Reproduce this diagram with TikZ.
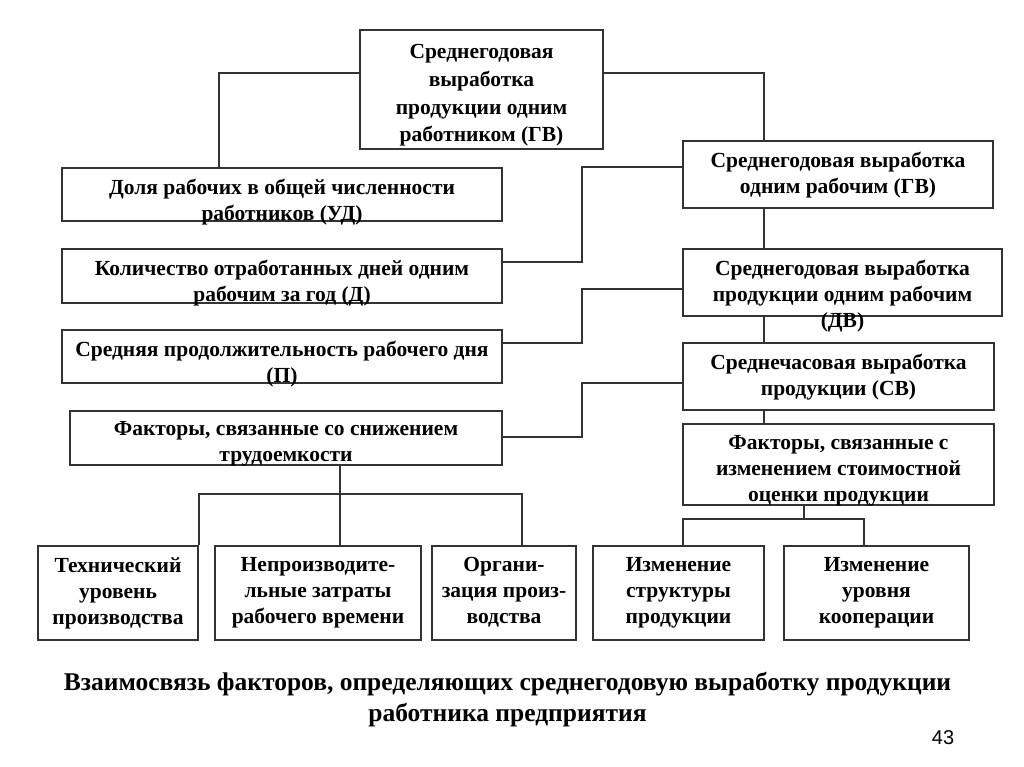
\documentclass[tikz,border=0pt]{standalone}
\usepackage{fontspec}
\setmainfont{Liberation Serif}
\newfontfamily\numfont{Liberation Sans}
\usetikzlibrary{positioning}
\begin{document}
\begin{tikzpicture}[x=1pt,y=-1pt,
           box_style/.style={draw=black!80,line width=1.2pt,inner sep=0pt},
           text_style/.style={inner sep=0pt,align=center,font=\fontsize{21.5}{26}\selectfont\bfseries},
           caption_style/.style={inner sep=0pt,align=center,font=\fontsize{25.5}{31}\selectfont\bfseries},
           edge_style/.style={draw=black!80,line width=1.2pt}]
            \useasboundingbox (0,0) rectangle (1024,767);
            % top and left column
            \node[box_style,minimum width=243pt,minimum height=119pt] (v_gv) at (481.5,89.5) {};
            \node[box_style,minimum width=440pt,minimum height=53pt] (v_ud) at (282,194.5) {};
            \node[box_style,minimum width=440pt,minimum height=54pt] (v_d) at (282,276) {};
            \node[box_style,minimum width=440pt,minimum height=53pt] (v_p) at (282,356.5) {};
            \node[box_style,minimum width=432pt,minimum height=54pt] (v_tr) at (286,438) {};
            % right column
            \node[box_style,minimum width=310pt,minimum height=67pt] (v_gvr) at (838,174.5) {};
            \node[box_style,minimum width=319pt,minimum height=67pt] (v_dv) at (842.5,282.5) {};
            \node[box_style,minimum width=311pt,minimum height=67pt] (v_sv) at (838.5,376.5) {};
            \node[box_style,minimum width=311pt,minimum height=81pt] (v_so) at (838.5,464.5) {};
            % bottom row
            \node[box_style,minimum width=160pt,minimum height=94pt] (v_tech) at (118,593) {};
            \node[box_style,minimum width=206pt,minimum height=94pt] (v_loss) at (318,593) {};
            \node[box_style,minimum width=144pt,minimum height=94pt] (v_org) at (504,593) {};
            \node[box_style,minimum width=171pt,minimum height=94pt] (v_struct) at (678.5,593) {};
            \node[box_style,minimum width=185pt,minimum height=94pt] (v_coop) at (876.5,593) {};
            % texts, hanging from the top of each box
            \node[text_style,font=\fontsize{21.5}{27.6}\selectfont\bfseries,below=15pt of v_gv.north] (t_gv) {Среднегодовая\\выработка\\продукции одним\\работником (ГВ)};
            \node[text_style,below=12pt of v_ud.north] (t_ud) {Доля рабочих в общей численности\\работников (УД)};
            \node[text_style,below=12pt of v_d.north] (t_d) {Количество отработанных дней одним\\рабочим за год (Д)};
            \node[text_style,below=12pt of v_p.north] (t_p) {Средняя продолжительность рабочего дня\\(П)};
            \node[text_style,below=11pt of v_tr.north] (t_tr) {Факторы, связанные со снижением\\трудоемкости};
            \node[text_style,below=12pt of v_gvr.north] (t_gvr) {Среднегодовая выработка\\одним рабочим (ГВ)};
            \node[text_style,below=12pt of v_dv.north] (t_dv) {Среднегодовая выработка\\продукции одним рабочим\\(ДВ)};
            \node[text_style,below=12pt of v_sv.north] (t_sv) {Среднечасовая выработка\\продукции (СВ)};
            \node[text_style,below=12pt of v_so.north] (t_so) {Факторы, связанные с\\изменением стоимостной\\оценки продукции};
            \node[text_style,below=12pt of v_tech.north] (t_tech) {Технический\\уровень\\производства};
            \node[text_style,below=12pt of v_loss.north] (t_loss) {Непроизводите-\\льные затраты\\рабочего времени};
            \node[text_style,below=12pt of v_org.north] (t_org) {Органи-\\зация произ-\\водства};
            \node[text_style,below=12pt of v_struct.north] (t_struct) {Изменение\\структуры\\продукции};
            \node[text_style,below=12pt of v_coop.north] (t_coop) {Изменение\\уровня\\кооперации};
            \node[caption_style] (v_title) at (507.5,699.5) {Взаимосвязь факторов, определяющих среднегодовую выработку продукции\\работника предприятия};
            \node[inner sep=0pt,font=\fontsize{20}{24}\selectfont\numfont] (v_page) at (943,738) {43};
            % connectors
            \draw[edge_style] (v_gv.west |- 0,73) -| (v_ud.north -| 219,0);
            \draw[edge_style] (v_gv.east |- 0,73) -| (v_gvr.north -| 764,0);
            \draw[edge_style] (v_d.east |- 0,262) -| (582,214) |- (v_gvr.west |- 0,167);
            \draw[edge_style] (v_p.east |- 0,343) -| (582,316) |- (v_dv.west |- 0,289);
            \draw[edge_style] (v_tr.east |- 0,437) -| (582,410) |- (v_sv.west |- 0,383);
            \draw[edge_style] (v_gvr.south -| 764,0) -- (v_dv.north -| 764,0);
            \draw[edge_style] (v_dv.south -| 764,0) -- (v_sv.north -| 764,0);
            \draw[edge_style] (v_sv.south -| 764,0) -- (v_so.north -| 764,0);
            \draw[edge_style] (v_tr.south -| 340,0) -- (v_loss.north -| 340,0);
            \draw[edge_style] (v_tech.north -| 199,0) |- (522,494) -- (v_org.north -| 522,0);
            \draw[edge_style] (v_so.south -| 804,0) -- (804,519);
            \draw[edge_style] (v_struct.north -| 683,0) |- (864,519) -- (v_coop.north -| 864,0);
        \end{tikzpicture}
\end{document}
